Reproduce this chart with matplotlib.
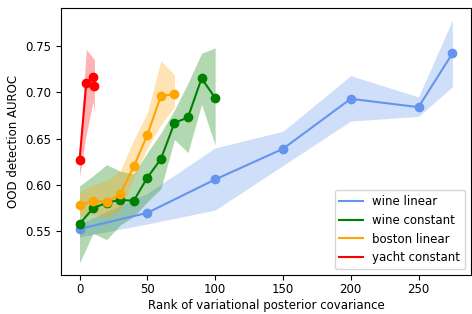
import numpy as np
import matplotlib
matplotlib.use('Agg')
from matplotlib import pyplot as plt

#%% data

rank_wine_lin = [0, 50, 100, 150, 200, 250, 275]
auc_wine_lin = [0.5526, 0.570, 0.606, 0.639, 0.693, 0.684, 0.742]
lo_wine_lin = [0.544, 0.558, 0.573, 0.621, 0.669, 0.674, 0.706]
hi_wine_lin = [0.558, 0.591, 0.640, 0.658, 0.718, 0.695, 0.778]

rank_wine_const = [0, 10, 20, 30, 40, 50, 60, 70, 80, 90, 100]
auc_wine_const = [0.558, 0.575, 0.581, 0.584, 0.583, 0.608, 0.628, 0.667, 0.673, 0.715, 0.694]
lo_wine_const = [0.516, 0.548, 0.541, 0.557, 0.566, 0.582, 0.596, 0.649, 0.635, 0.687, 0.643]
hi_wine_const = [0.599, 0.610, 0.622, 0.615, 0.612, 0.635, 0.656, 0.681, 0.710, 0.742, 0.748]

rank_boston = [0, 10, 20, 30, 40, 50, 60, 70]
auc_boston = [0.578, 0.583, 0.582, 0.590, 0.620, 0.654, 0.696, 0.698]
lo_boston = [0.566, 0.568, 0.565, 0.572, 0.607, 0.640, 0.665, 0.684]
hi_boston = [0.593, 0.600, 0.605, 0.615, 0.649, 0.678, 0.734, 0.719]

rank_yacht = [0, 5, 10, 11]
auc_yacht = [0.6265, 0.710, 0.716, 0.707]
lo_yacht = [0.609, 0.655, 0.690, 0.678]
hi_yacht = [0.640, 0.746, 0.737, 0.735]

series = [
    (rank_wine_lin, auc_wine_lin, lo_wine_lin, hi_wine_lin, 'cornflowerblue', 'wine linear'),
    (rank_wine_const, auc_wine_const, lo_wine_const, hi_wine_const, 'green', 'wine constant'),
    (rank_boston, auc_boston, lo_boston, hi_boston, 'orange', 'boston linear'),
    (rank_yacht, auc_yacht, lo_yacht, hi_yacht, 'red', 'yacht constant'),
]

plt.rcParams['font.size'] = 8.5
plt.rcParams['xtick.major.pad'] = 2.5
plt.rcParams['axes.labelpad'] = 2.0

fig = plt.figure(figsize=(4.72, 3.14), dpi=100)
ax = fig.add_axes([0.129, 0.124, 0.869, 0.851])

for r, m, lo, hi, c, lab in series:
    ax.fill_between(r, lo, hi, color=c, alpha=0.3, linewidth=0)
    ax.plot(r, m, color=c, label=lab)
    ax.plot(r, m, 'o', color=c, markersize=6)

ax.set_xlabel('Rank of variational posterior covariance')
ax.set_ylabel('OOD detection AUROC', labelpad=4)
ax.set_yticks([0.55, 0.60, 0.65, 0.70, 0.75])
ax.legend(loc='lower right')

plt.savefig('out.png', dpi=100)
